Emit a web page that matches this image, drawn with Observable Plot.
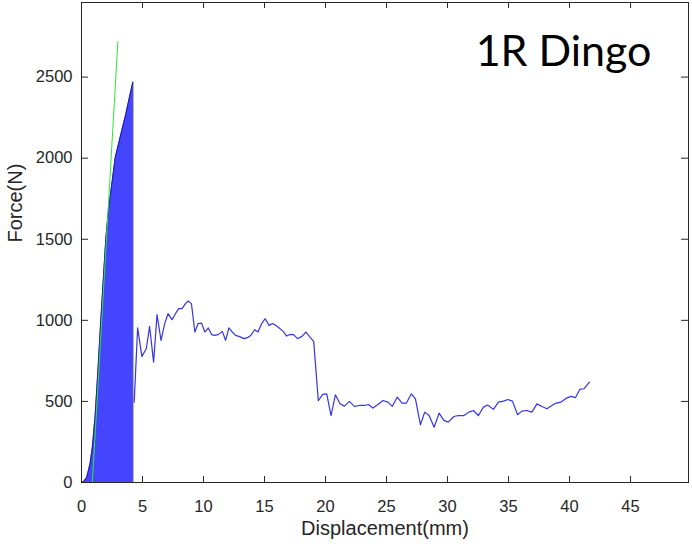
<!DOCTYPE html>
<html>
<head>
<meta charset="utf-8">
<script src="https://cdn.jsdelivr.net/npm/d3@7"></script>
<script src="https://cdn.jsdelivr.net/npm/@observablehq/plot@0.6"></script>
<style>
  html, body { margin: 0; padding: 0; background: #fff; }
  #chart { width: 692px; height: 544px; }
  svg { display: block; }
</style>
</head>
<body>
<div id="chart"></div>
<script>
// Filled loading region (displacement mm, force N)
const areaDisp  = [0, 0.2, 0.43, 0.70, 0.89, 1.11, 1.38, 1.58, 1.99, 2.21, 2.76, 3.31, 3.58, 4.21, 4.21];
const areaForce = [0, 8, 33, 115, 218, 403, 734, 1000, 1500, 1679, 2002, 2173, 2255, 2471, 0];

// Post-peak force curve
const lineDisp = [4.32, 4.60, 4.95, 5.31, 5.58, 5.91, 6.19, 6.52, 6.82, 7.09, 7.42, 7.70, 7.97, 8.24, 8.52, 8.74, 9.01, 9.29, 9.56, 9.84,
  10.11, 10.39, 10.66, 10.93, 11.21, 11.54, 11.81, 12.08, 12.36, 12.63, 12.91, 13.32, 13.59, 13.87, 14.20, 14.47, 14.77, 15.05, 15.38, 15.65,
  15.93, 16.20, 16.53, 16.81, 17.08, 17.38, 17.71, 18.07, 18.40, 18.67, 19.03, 19.41, 19.77, 20.10, 20.45, 20.81, 21.19, 21.55, 21.96, 22.37,
  22.78, 23.19, 23.52, 23.88, 24.29, 24.71, 25.12, 25.47, 25.88, 26.27, 26.63, 27.04, 27.37, 27.78, 28.13, 28.49, 28.90, 29.31, 29.70, 30.06,
  30.52, 30.88, 31.34, 31.75, 32.12, 32.53, 32.94, 33.29, 33.76, 34.17, 34.58, 34.94, 35.32, 35.74, 36.09, 36.50, 36.91, 37.33, 37.74, 38.15,
  38.56, 38.91, 39.30, 39.74, 40.12, 40.48, 40.84, 41.17, 41.63];
const lineForce = [496, 953, 778, 825, 963, 742, 1035, 877, 980, 1041, 1004, 1041, 1072, 1072, 1103, 1119, 1103, 928, 980, 983,
  928, 953, 912, 907, 912, 932, 877, 953, 928, 907, 901, 887, 893, 907, 942, 928, 980, 1010, 969, 980,
  969, 953, 932, 903, 913, 912, 887, 901, 928, 901, 870, 504, 543, 547, 413, 541, 486, 471, 500, 469,
  475, 475, 481, 459, 481, 506, 496, 469, 527, 490, 490, 547, 516, 356, 434, 413, 341, 428, 383, 372,
  407, 413, 413, 434, 444, 413, 465, 478, 451, 496, 502, 512, 502, 418, 440, 444, 434, 485, 469, 455,
  475, 490, 496, 520, 531, 523, 574, 578, 619];

// Linear stiffness fit
const fitDisp  = [0.89, 2.98];
const fitForce = [0, 2718];

const xTicks = [0, 5, 10, 15, 20, 25, 30, 35, 40, 45];
const yTicks = [0, 500, 1000, 1500, 2000, 2500];
const xLabel = "Displacement(mm)";
const yLabel = "Force(N)";
const title = "1R Dingo";

const areaData = areaDisp.map((x, i) => ({x, y: areaForce[i]}));
const lineData = lineDisp.map((x, i) => ({x, y: lineForce[i]}));
const fitData = fitDisp.map((x, i) => ({x, y: fitForce[i]}));

const axisColor = "#262626";
const font = "'Liberation Sans', Arial, Helvetica, sans-serif";

const chart = Plot.plot({
  width: 692,
  height: 544,
  marginLeft: 81,
  marginRight: 4,
  marginTop: 2,
  marginBottom: 62,
  style: {fontFamily: font, fontSize: "16px", color: axisColor, background: "#fff"},
  x: {domain: [0, 49.75]},
  y: {domain: [0, 2960]},
  marks: [
    Plot.areaY(areaData, {x: "x", y: "y", fill: "#4545ff", curve: "linear"}),
    Plot.line(areaData, {x: "x", y: "y", stroke: "#1c1ca8", strokeWidth: 1}),
    Plot.line(lineData, {x: "x", y: "y", stroke: "#3535e6", strokeWidth: 1.2}),
    Plot.line(fitData, {x: "x", y: "y", stroke: "#2ee82e", strokeWidth: 1}),
    Plot.frame({stroke: axisColor, strokeWidth: 1}),
    // inward ticks (bottom/top, left/right)
    Plot.tickX(xTicks, {x: d => d, stroke: axisColor, insetTop: 474}),
    Plot.tickX(xTicks, {x: d => d, stroke: axisColor, insetBottom: 474}),
    Plot.tickY(yTicks, {y: d => d, stroke: axisColor, insetRight: 600}),
    Plot.tickY(yTicks, {y: d => d, stroke: axisColor, insetLeft: 600}),
    Plot.axisX({ticks: xTicks, tickFormat: d => String(d), tickSize: 0, tickPadding: 18, label: null, fontSize: 16.5, fill: axisColor}),
    Plot.axisY({ticks: yTicks, tickFormat: d => String(d), tickSize: 0, tickPadding: 9, label: null, fontSize: 16.5, fill: axisColor}),
    Plot.text([xLabel], {frameAnchor: "bottom", dy: 52, fontSize: 20, fill: axisColor}),
    Plot.text([yLabel], {frameAnchor: "left", dx: -66, rotate: -90, fontSize: 20, fill: axisColor}),
    Plot.text([title], {frameAnchor: "top-right", dx: -37, dy: 63, textAnchor: "end", lineAnchor: "bottom",
      fontSize: 43, fontFamily: "Lato, 'Open Sans', sans-serif", fill: "#000"})
  ]
});
document.getElementById("chart").appendChild(chart);
</script>
</body>
</html>
